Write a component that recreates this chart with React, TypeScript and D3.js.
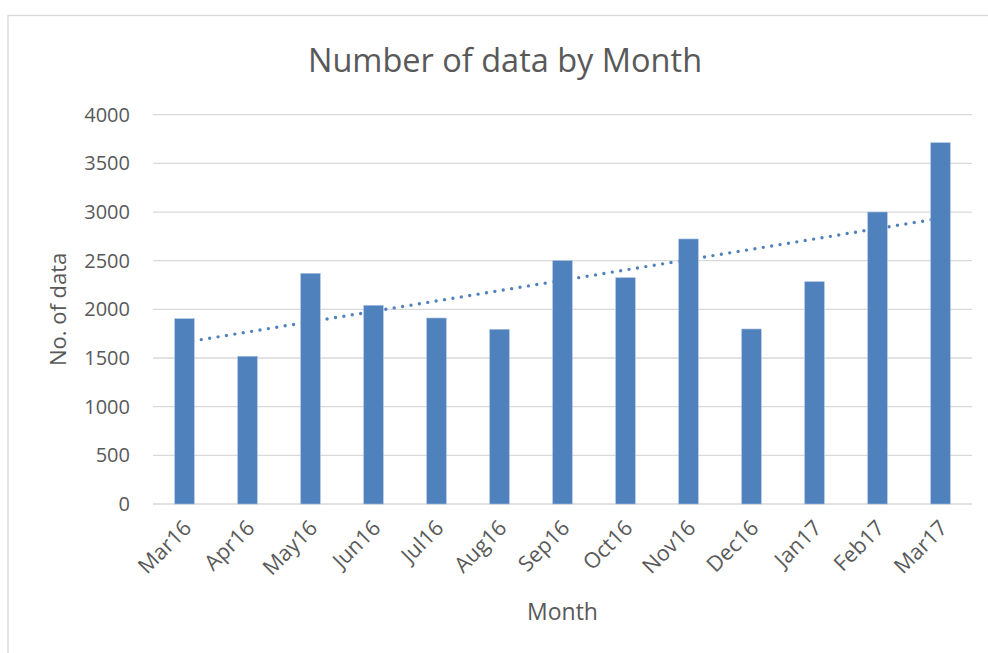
import React from "react";
import * as d3 from "d3";

const months = ["Mar16","Apr16","May16","Jun16","Jul16","Aug16","Sep16","Oct16","Nov16","Dec16","Jan17","Feb17","Mar17"];
const counts = [1904,1518,2370,2041,1911,1795,2500,2325,2723,1798,2284,3000,3712];
const yTicks = [0,500,1000,1500,2000,2500,3000,3500,4000];

const W = 988, H = 653;
const left = 153, right = 972, top = 114.7, bottom = 504;
const FONT = "'Open Sans', 'Noto Sans', sans-serif";
const TXT = "#595959";
const BLUE = "#4F81BD";

export default function App() {
  const x = d3.scaleBand<string>().domain(months).range([left, right]).paddingInner(0.69).paddingOuter(0.345);
  const y = d3.scaleLinear().domain([0, 4000]).range([bottom, top]);

  // linear trendline (least squares)
  const n = counts.length;
  const xs = d3.range(n);
  const mx = d3.mean(xs)!;
  const my = d3.mean(counts)!;
  const sxy = d3.sum(xs, (i) => (i - mx) * (counts[i] - my));
  const sxx = d3.sum(xs, (i) => (i - mx) ** 2);
  const slope = sxy / sxx;
  const icpt = my - slope * mx;
  const cx = (m: string) => x(m)! + x.bandwidth() / 2;
  const trend = d3.line<number>().x((i) => cx(months[i])).y((i) => y(icpt + slope * i))(xs)!;

  return (
    <svg width={W} height={H} style={{ position: "absolute", left: 0, top: 0, background: "#fff" }}>
      <rect x={8} y={15.5} width={W + 10} height={H + 10} fill="#fff" stroke="#D9D9D9" strokeWidth={1.3} />
      <text x={505} y={72} textAnchor="middle" fontFamily={FONT} fontSize={32.5} fill={TXT}>Number of data by Month</text>
      {yTicks.map((t) => (
        <g key={t}>
          <line x1={left} x2={right} y1={y(t)} y2={y(t)} stroke="#D9D9D9" strokeWidth={1.3} />
          <text x={130} y={y(t)} dy="0.35em" textAnchor="end" fontFamily={FONT} fontSize={20} fill={TXT}>{t}</text>
        </g>
      ))}
      <path d={trend} fill="none" stroke={BLUE} strokeWidth={3.4} strokeLinecap="round" strokeDasharray="0 8.5" />
      {months.map((m, i) => (
        <rect key={m} x={x(m)} y={y(counts[i])} width={x.bandwidth()} height={y(0) - y(counts[i])} fill={BLUE} stroke="#a7bfdd" strokeWidth={0.6} />
      ))}
      {months.map((m) => (
        <text key={m} transform={`translate(${cx(m) + 3},${524}) rotate(-45)`} textAnchor="end" dy="0.35em" fontFamily={FONT} fontSize={21.5} fill={TXT}>{m}</text>
      ))}
      <text transform={`translate(66,${(top + bottom) / 2}) rotate(-90)`} textAnchor="middle" fontFamily={FONT} fontSize={22} fill={TXT}>No. of data</text>
      <text x={(left + right) / 2} y={620} textAnchor="middle" fontFamily={FONT} fontSize={23} fill={TXT}>Month</text>
    </svg>
  );
}
